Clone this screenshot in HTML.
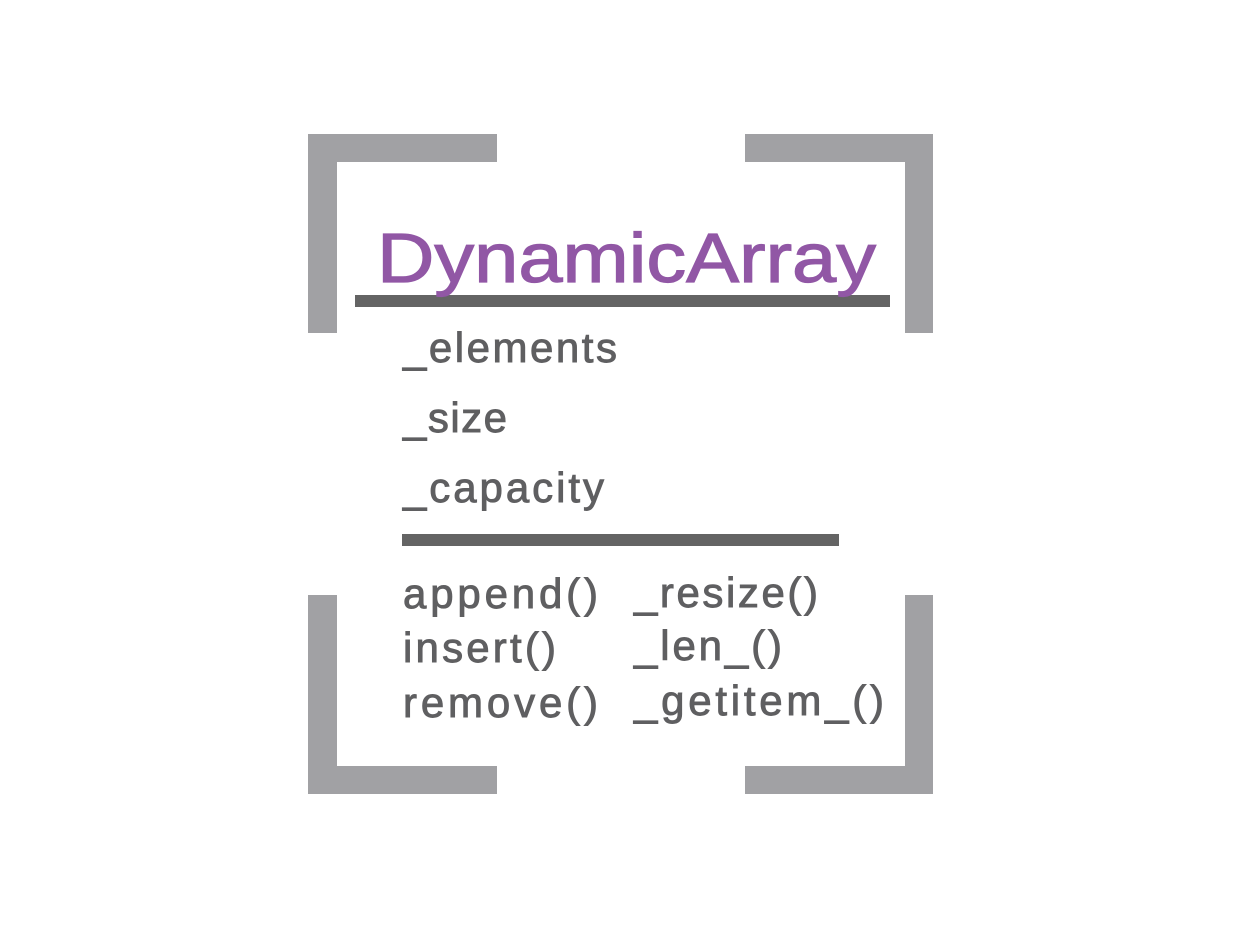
<!DOCTYPE html>
<html><head><meta charset="utf-8"><style>html,body{margin:0;padding:0;background:#fff;}svg{display:block}</style></head>
<body>
<svg width="1242" height="929" viewBox="0 0 1242 929" xmlns="http://www.w3.org/2000/svg">
<g fill="#a1a1a4">
<rect x="308" y="134" width="189" height="28"/><rect x="308" y="134" width="29" height="199"/>
<rect x="745" y="134" width="188" height="28"/><rect x="905" y="134" width="28" height="199"/>
<rect x="308" y="595" width="29" height="199"/><rect x="308" y="766" width="189" height="28"/>
<rect x="905" y="595" width="28" height="199"/><rect x="745" y="766" width="188" height="28"/>
</g>
<rect x="355" y="295" width="535" height="12" fill="#646464"/>
<rect x="402" y="534" width="437" height="12" fill="#646464"/>
<text x="377" y="282" font-family="Liberation Sans, sans-serif" font-size="70" fill="#9157a5" stroke="#9157a5" stroke-width="1.2" textLength="499" lengthAdjust="spacingAndGlyphs">DynamicArray</text>
<g font-family="Liberation Sans, sans-serif" font-size="42" fill="#5f5f61" stroke="#5f5f61" stroke-width="0.9">
<text x="403" y="362" textLength="214">_elements</text>
<text x="403" y="432" textLength="104">_size</text>
<text x="403" y="502" textLength="201">_capacity</text>
<text x="403" y="608" textLength="195">append()</text>
<text x="403" y="662" textLength="153">insert()</text>
<text x="403" y="717" textLength="195">remove()</text>
<text x="634" y="607" textLength="184">_resize()</text>
<text x="634" y="660" textLength="148">_len_()</text>
<text x="634" y="715" textLength="250">_getitem_()</text>
</g>
</svg>
</body></html>
